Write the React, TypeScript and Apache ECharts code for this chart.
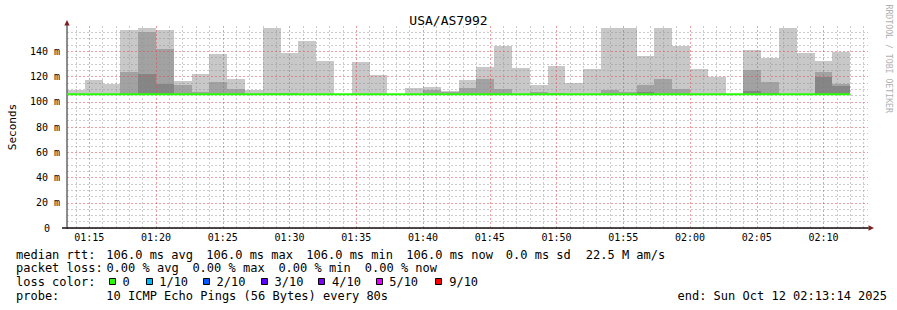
import React, { useEffect, useRef } from "react";
import * as echarts from "echarts";

const MONO = "'DejaVu Sans Mono', monospace";

// time in seconds since midnight
const timeStart = 4400; // 01:13:20
const timeEnd = 8000; // 02:13:20
const stepSeconds = 80;
const xTickFirst = 4500; // 01:15
const xTickStep = 300;
const xTickLabels = ["01:15", "01:20", "01:25", "01:30", "01:35", "01:40", "01:45", "01:50", "01:55", "02:00", "02:05", "02:10"];

const yTickLabels = ["0", "20 m", "40 m", "60 m", "80 m", "100 m", "120 m", "140 m"];
const yMax = 160;

// smoke floor (min rtt) and smoke layer tops, one per 80 s step (ms)
const smokeFloor = 106.0;
const smokeOuter: (number | null)[] = [
  109.3, 117.2, 114.3, 156.8, 158.4, 156.8, 116.4, 122.0, 137.8, 118.0, 109.3, 158.4,
  138.9, 148.1, 132.3, null, 131.5, 121.2, null, 110.9, 111.7, 108.5, 117.2, 127.5,
  144.2, 126.7, 113.3, 128.3, 114.9, 125.9, 158.4, 158.4, 136.2, 158.4, 144.2, 125.9,
  119.6, null, 141.0, 134.7, 158.4, 138.6, 132.3, 139.4,
];
const smokeMiddle: (number | null)[] = [
  null, null, null, 123.8, 155.2, 141.8, 113.3, 107.7, 115.6, 110.1, null, 106.9,
  106.9, null, null, null, null, null, null, null, 109.3, 107.7, 110.9, 118.0,
  110.1, null, 107.7, 106.9, null, null, 109.3, 108.0, 113.3, 118.0, 110.1, null,
  null, null, 125.1, 115.6, null, null, 123.6, 114.1,
];
const smokeInner: (number | null)[] = [
  null, null, null, null, 122.0, 114.1, null, null, null, null, null, null,
  null, null, null, null, null, null, null, null, null, null, null, null,
  null, null, null, null, null, null, null, null, 107.7, null, null, null,
  null, null, 108.5, 106.9, null, null, 119.6, 112.5,
];
const medianRtt: number[] = [
  106.0, 106.0, 106.0, 106.0, 106.0, 106.0, 106.0, 106.0, 106.0, 106.0, 106.0, 106.0,
  106.0, 106.0, 106.0, 106.0, 106.0, 106.0, 106.0, 106.0, 106.0, 106.0, 106.0, 106.0,
  106.0, 106.0, 106.0, 106.0, 106.0, 106.0, 106.0, 106.0, 106.0, 106.0, 106.0, 106.0,
  106.0, 106.0, 106.0, 106.0, 106.0, 106.0, 106.0, 106.0,
];

const lossLabels = ["0", "1/10", "2/10", "3/10", "4/10", "5/10", "9/10"];
const lossColors = ["#26ff00", "#00b8ff", "#0059ff", "#5e00ff", "#7e00ff", "#dd00ff", "#ff0000"];

const MINOR = "rgba(143,143,143,0.45)";
const MAJOR = "rgba(222,79,79,0.55)";
const NONE = "rgba(0,0,0,0)";

function bins(vals: (number | null)[]) {
  const out: number[][] = [];
  vals.forEach((v, i) => {
    if (v != null) out.push([timeStart + i * stepSeconds, timeStart + (i + 1) * stepSeconds, v, smokeFloor]);
  });
  return out;
}

function smokeSeries(name: string, vals: (number | null)[], color: string) {
  return {
    type: "custom",
    name,
    silent: true,
    z: 2,
    encode: { x: [0, 1], y: [2, 3] },
    data: bins(vals),
    renderItem: (_p: any, api: any) => {
      const a = api.coord([api.value(0), api.value(2)]);
      const b = api.coord([api.value(1), api.value(3)]);
      const x0 = Math.round(a[0]);
      const x1 = Math.round(b[0]);
      const y0 = Math.round(a[1]);
      return {
        type: "rect",
        shape: { x: x0, y: y0, width: x1 - x0, height: b[1] - y0 },
        style: { fill: color },
      };
    },
  };
}

function txt(x: number, y: number, text: string, extra: any = {}) {
  return {
    type: "text",
    x,
    y,
    silent: true,
    style: {
      text,
      fontFamily: MONO,
      fontSize: 12,
      fill: "#000",
      align: "left",
      verticalAlign: "middle",
      textAlign: "left",
      textVerticalAlign: "middle",
      ...extra,
    },
  };
}

function buildOption() {
  const ySplitColors = [MAJOR, MAJOR, MAJOR, MAJOR, MAJOR, MAJOR, MAJOR, MAJOR, NONE];

  // vertical grid: every minute, major every 5 minutes
  const vGrid: any[] = [];
  for (let t = Math.ceil(timeStart / 60) * 60; t < timeEnd; t += 60) {
    const major = t % 300 === 0;
    vGrid.push({
      xAxis: t,
      lineStyle: { color: major ? MAJOR : MINOR, type: [2, 2], width: 1 },
    });
  }

  const medianData = medianRtt.map((v, i) => [timeStart + i * stepSeconds, v]);
  medianData.push([timeStart + medianRtt.length * stepSeconds, medianRtt[medianRtt.length - 1]]);

  const swatchX = [109, 146, 203, 261, 318, 376, 435];
  const lossLabelX = [122.5, 159.2, 216.5, 274.5, 332, 389.2, 449.2];

  const graphics: any[] = [
    // axis extensions and arrows
    { type: "line", silent: true, shape: { x1: 62, y1: 228, x2: 67, y2: 228 }, style: { stroke: "#111", lineWidth: 1.5 } },
    { type: "line", silent: true, shape: { x1: 67, y1: 26, x2: 67, y2: 22 }, style: { stroke: "#666", lineWidth: 1.5 } },
    { type: "polygon", silent: true, shape: { points: [[64.3, 25.5], [69.7, 25.5], [67, 20]] }, style: { fill: "#801f1f" } },
    { type: "polygon", silent: true, shape: { points: [[868.5, 225.3], [868.5, 230.7], [874, 228]] }, style: { fill: "#801f1f" } },
    // watermark
    {
      type: "text",
      x: 888.5,
      y: 4.5,
      rotation: -Math.PI / 2,
      silent: true,
      style: {
        text: "RRDTOOL / TOBI OETIKER",
        fontFamily: MONO,
        fontSize: 8.2,
        fill: "#b0b0b0",
        align: "left",
        verticalAlign: "middle",
        textAlign: "left",
        textVerticalAlign: "middle",
      },
    },
    // legend line 1
    txt(16, 254.7, "median rtt:"),
    txt(106.3, 254.7, "106.0 ms avg"),
    txt(206.3, 254.7, "106.0 ms max"),
    txt(306.3, 254.7, "106.0 ms min"),
    txt(406.3, 254.7, "106.0 ms now"),
    txt(505.8, 254.7, "0.0 ms sd"),
    txt(585.8, 254.7, "22.5 M am/s"),
    // legend line 2
    txt(16, 268.2, "packet loss:"),
    txt(106.4, 268.2, "0.00 % avg"),
    txt(192.4, 268.2, "0.00 % max"),
    txt(278.4, 268.2, "0.00 % min"),
    txt(364.8, 268.2, "0.00 % now"),
    // legend line 3
    txt(16, 282.1, "loss color:"),
    // legend line 4
    txt(16, 295.8, "probe:"),
    txt(106.3, 295.8, "10 ICMP Echo Pings (56 Bytes) every 80s"),
    txt(677.5, 295.8, "end: Sun Oct 12 02:13:14 2025"),
  ];
  lossLabels.forEach((lab, i) => {
    graphics.push({
      type: "rect",
      silent: true,
      shape: { x: swatchX[i] + 0.5, y: 278.5, width: 6, height: 6 },
      style: { fill: lossColors[i], stroke: "#000", lineWidth: 1 },
    });
    graphics.push(txt(lossLabelX[i], 282.1, lab));
  });

  return {
    animation: false,
    backgroundColor: "#ffffff",
    title: {
      text: "USA/AS7992",
      left: "center",
      top: 13.5,
      padding: 0,
      textStyle: { fontFamily: MONO, fontSize: 13, fontWeight: "normal", color: "#000" },
    },
    grid: { left: 67, right: 29, top: 26, bottom: 82, containLabel: false, outerBoundsMode: "none" },
    xAxis: {
      type: "value",
      min: timeStart,
      max: timeEnd,
      interval: 20,
      z: 3,
      axisLine: { show: true, onZero: false, lineStyle: { color: "#111", width: 1.5 } },
      axisTick: { show: false },
      axisLabel: {
        margin: 4,
        fontFamily: MONO,
        fontSize: 10,
        color: "#000",
        formatter: (v: number) => {
          const k = (v - xTickFirst) / xTickStep;
          return Number.isInteger(k) && k >= 0 && k < xTickLabels.length ? xTickLabels[k] : "";
        },
      },
      splitLine: { show: false },
    },
    yAxis: {
      type: "value",
      min: 0,
      max: yMax,
      interval: 20,
      z: 3,
      name: "Seconds",
      nameLocation: "middle",
      nameGap: 49.5,
      nameMoveOverlap: false,
      nameTextStyle: { fontFamily: MONO, fontSize: 11, color: "#000" },
      axisLine: { show: true, lineStyle: { color: "#666", width: 1.5 } },
      axisTick: { show: false },
      axisLabel: {
        margin: 7,
        fontFamily: MONO,
        fontSize: 10,
        color: "#000",
        formatter: (v: number) => {
          const k = v / 20;
          if (k === 0) return "{z|" + yTickLabels[0] + "}";
          return Number.isInteger(k) && k < yTickLabels.length ? yTickLabels[k] : "";
        },
        rich: { z: { fontFamily: MONO, fontSize: 10, color: "#000", padding: [0, 10, 0, 0] } },
      },
      splitLine: { show: true, lineStyle: { color: ySplitColors, type: [2, 2], width: 1 } },
      minorTick: { show: false, splitNumber: 4 },
      minorSplitLine: { show: true, lineStyle: { color: MINOR, type: [2, 2], width: 1 } },
    },
    series: [
      smokeSeries("smoke outer", smokeOuter, "#c8c8c8"),
      smokeSeries("smoke middle", smokeMiddle, "#a2a2a2"),
      smokeSeries("smoke inner", smokeInner, "#858585"),
      {
        type: "line",
        name: "median rtt",
        data: medianData,
        step: "end",
        symbol: "none",
        silent: true,
        z: 6,
        lineStyle: { color: "#26ff00", width: 2 },
        markLine: {
          silent: true,
          z: 3,
          symbol: ["none", "none"],
          label: { show: false },
          emphasis: { disabled: true },
          animation: false,
          data: vGrid,
        },
      },
    ],
    graphic: graphics,
  };
}

export default function App() {
  const ref = useRef<HTMLDivElement>(null);
  useEffect(() => {
    if (!ref.current) return;
    const chart = echarts.init(ref.current, undefined, { renderer: "svg", width: 897, height: 310 });
    chart.setOption(buildOption() as any);
    return () => chart.dispose();
  }, []);
  return (
    <div
      ref={ref}
      style={{ position: "absolute", left: 0, top: 0, width: 897, height: 310, background: "#fff" }}
    />
  );
}
